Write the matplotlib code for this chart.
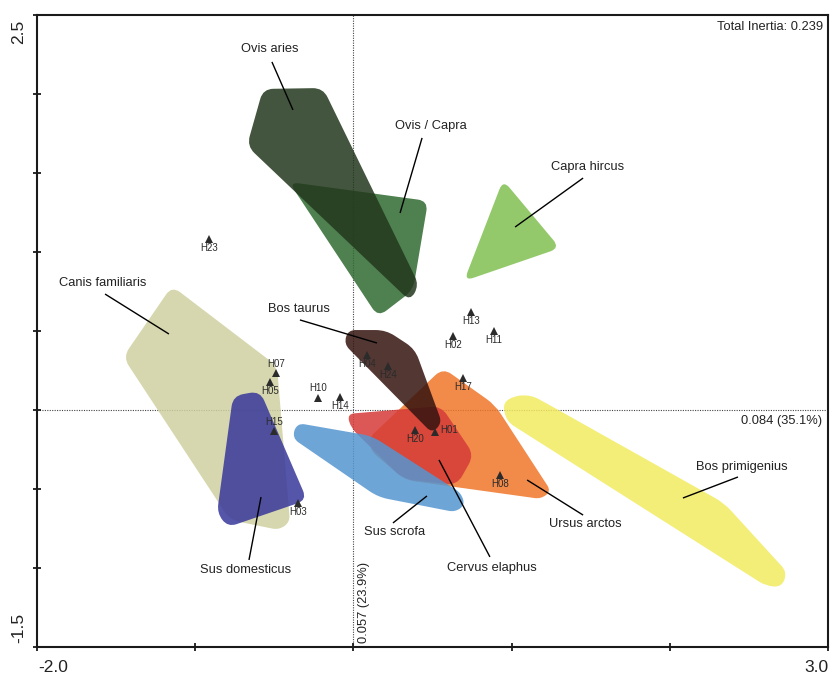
import numpy as np
import matplotlib
matplotlib.use("Agg")
import matplotlib.pyplot as plt
from matplotlib.path import Path
from matplotlib.patches import PathPatch

plt.rcParams["font.family"] = ["Liberation Sans", "DejaVu Sans"]

# ---- ordination scores -------------------------------------------------
# convex hulls of the taxa (axis 1, axis 2)
canis_familiaris = [(-1.147, 0.785), (-0.483, 0.278), (-0.401, -0.709),
                    (-0.470, -0.759), (-0.780, -0.696), (-1.456, 0.335)]
sus_domesticus = [(-0.761, 0.089), (-0.590, 0.120), (-0.293, -0.570),
                  (-0.793, -0.741), (-0.862, -0.652)]
ovis_capra = [(-0.407, 1.443), (0.472, 1.323), (0.377, 0.759), (0.156, 0.589)]
ovis_aries = [(-0.571, 2.032), (-0.192, 2.038), (0.415, 0.791),
              (0.358, 0.690), (-0.673, 1.671)]
capra_hircus = [(0.946, 1.456), (1.306, 1.025), (0.699, 0.816)]
bos_primigenius = [(0.946, 0.044), (1.015, 0.089), (1.123, 0.095), (1.217, 0.044),
                   (2.343, -0.589), (2.741, -1.025), (2.709, -1.120),
                   (2.608, -1.114), (0.965, -0.070)]
ursus_arctos = [(0.566, 0.266), (0.895, 0.032), (1.249, -0.513), (1.186, -0.563),
                (0.326, -0.443), (0.111, -0.259), (0.099, -0.177)]
cervus_elaphus = [(-0.040, -0.025), (0.554, 0.025), (0.762, -0.285),
                  (0.655, -0.475), (0.314, -0.437), (-0.015, -0.114)]
sus_scrofa = [(-0.357, -0.082), (0.118, -0.165), (0.680, -0.525), (0.705, -0.601),
              (0.642, -0.646), (0.156, -0.551), (-0.388, -0.177)]
bos_taurus = [(-0.034, 0.506), (0.206, 0.506), (0.389, 0.386), (0.560, -0.082),
              (0.497, -0.146), (-0.059, 0.418)]

# sites (assemblages)
site_names = ["H23", "H13", "H11", "H02", "H04", "H24", "H17", "H07", "H05",
              "H10", "H14", "H15", "H20", "H01", "H03", "H08"]
site_x = [-0.913, 0.743, 0.889, 0.630, 0.086, 0.219, 0.693, -0.489, -0.527,
          -0.224, -0.085, -0.502, 0.389, 0.516, -0.350, 0.927]
site_y = [1.082, 0.620, 0.500, 0.468, 0.348, 0.278, 0.203, 0.234, 0.177,
          0.076, 0.082, -0.133, -0.127, -0.139, -0.589, -0.411]
site_label_side = ["below", "below", "below", "below", "below", "below", "below",
                   "above", "below", "above", "below", "above", "below", "right",
                   "below", "below"]

total_inertia = 0.239
axis1_eig, axis1_pct = 0.084, 35.1
axis2_eig, axis2_pct = 0.057, 23.9

# drawing order (bottom to top), colours, label placement and leader lines
taxa = [
    ("Canis familiaris", canis_familiaris, "#cfd0a0", (-1.583, 0.804), ((-1.570, 0.734), (-1.166, 0.481))),
    ("Sus domesticus", sus_domesticus, "#37379a", (-0.679, -1.010), ((-0.660, -0.949), (-0.584, -0.551))),
    ("Ovis / Capra", ovis_capra, "#2f6a31", (0.491, 1.797), ((0.434, 1.722), (0.295, 1.247))),
    ("Ovis aries", ovis_aries, "#22371c", (-0.527, 2.285), ((-0.515, 2.203), (-0.382, 1.899))),
    ("Capra hircus", capra_hircus, "#80c051", (1.483, 1.538), ((1.452, 1.468), (1.022, 1.158))),
    ("Bos primigenius", bos_primigenius, "#f2eb60", (2.456, -0.361), ((2.431, -0.424), (2.083, -0.557))),
    ("Ursus arctos", ursus_arctos, "#f0762a", (1.464, -0.722), ((1.452, -0.665), (1.098, -0.443))),
    ("Cervus elaphus", cervus_elaphus, "#d53b38", (0.876, -1.000), ((0.863, -0.930), (0.541, -0.316))),
    ("Sus scrofa", sus_scrofa, "#5596d1", (0.263, -0.772), ((0.250, -0.715), (0.465, -0.544))),
    ("Bos taurus", bos_taurus, "#34140f", (-0.344, 0.639), ((-0.338, 0.570), (0.149, 0.424))),
]


def rounded_hull(verts, r):
    """Closed path through the hull with each corner replaced by a quadratic curve."""
    v = np.asarray(verts, float)
    n = len(v)
    pts, codes = [], []
    for i in range(n):
        p0, p1, p2 = v[i - 1], v[i], v[(i + 1) % n]
        d0, d2 = p0 - p1, p2 - p1
        l0, l2 = np.hypot(*d0), np.hypot(*d2)
        ri = min(r, 0.5 * l0, 0.5 * l2)
        a = p1 + d0 / l0 * ri
        b = p1 + d2 / l2 * ri
        pts.append(a)
        codes.append(Path.MOVETO if i == 0 else Path.LINETO)
        pts += [p1, b]
        codes += [Path.CURVE3, Path.CURVE3]
    pts.append(pts[0])
    codes.append(Path.CLOSEPOLY)
    return Path(pts, codes)


W, H = 830, 678
fig = plt.figure(figsize=(W / 100, H / 100), dpi=100)
ax = fig.add_axes([37 / W, 31 / H, 791 / W, 632 / H])
ax.set_xlim(-2.0, 3.0)
ax.set_ylim(-1.5, 2.5)

# origin lines
ax.axvline(0, color="#444444", lw=0.8, ls=(0, (1, 1.2)), zorder=1)
ax.axhline(0, color="#444444", lw=0.8, ls=(0, (1, 1.2)), zorder=1)

# taxon hulls
for k, (name, hull, col, tpos, line) in enumerate(taxa):
    ax.add_patch(PathPatch(rounded_hull(hull, 0.065), facecolor=col, edgecolor="none",
                           alpha=0.85, zorder=2 + k * 0.01))

# leader lines and taxon names
for name, hull, col, tpos, line in taxa:
    (x0, y0), (x1, y1) = line
    ax.plot([x0, x1], [y0, y1], color="black", lw=1.0, zorder=5, solid_capstyle="butt")
    ax.text(tpos[0], tpos[1], name, ha="center", va="center", fontsize=9.3,
            color="#222222", zorder=6)

# sites
ax.plot(site_x, site_y, ls="none", marker="^", ms=5.2, color="#2b2b2b",
        markeredgewidth=0, zorder=7)
offsets = {"below": (0, -9, "center", "center"),
           "above": (0, 9.5, "center", "center"),
           "right": (5, 1.5, "left", "center")}
for name, x, y, side in zip(site_names, site_x, site_y, site_label_side):
    dx, dy, ha, va = offsets[side]
    ax.annotate(name, (x, y), xytext=(dx, dy), textcoords="offset pixels",
                ha=ha, va=va, fontsize=7, color="#2b2b2b", zorder=8)

# axis annotations
ax.text(2.968, 2.424, f"Total Inertia: {total_inertia:.3f}", ha="right", va="center",
        fontsize=9.3, color="#222222")
ax.text(2.965, -0.07, f"{axis1_eig:.3f} ({axis1_pct:.1f}%)", ha="right", va="center",
        fontsize=9.3, color="#222222")
ax.text(0.067, -1.475, f"{axis2_eig:.3f} ({axis2_pct:.1f}%)", ha="center", va="bottom",
        rotation=90, fontsize=9.3, color="#222222")

# frame and ticks
for s in ax.spines.values():
    s.set_linewidth(1.5)
    s.set_color("#1a1a1a")
ax.set_xticks(np.arange(-2.0, 3.01, 1.0))
ax.set_yticks(np.arange(-1.5, 2.51, 0.5))
ax.set_xticklabels([])
ax.set_yticklabels([])
ax.tick_params(direction="inout", length=5.5, width=1.3, color="#1a1a1a",
               top=False, right=False)

xmin, xmax = ax.get_xlim()
ymin, ymax = ax.get_ylim()
lab = dict(fontsize=12.5, color="#222222")
ax.annotate(f"{xmin:.1f}", (xmin, 0), xycoords=("data", "axes fraction"),
            xytext=(1, -21), textcoords="offset pixels", ha="left", va="center", **lab)
ax.annotate(f"{xmax:.1f}", (xmax, 0), xycoords=("data", "axes fraction"),
            xytext=(0, -21), textcoords="offset pixels", ha="right", va="center", **lab)
ax.annotate(f"{ymax:.1f}", (0, ymax), xycoords=("axes fraction", "data"),
            xytext=(-18.5, -5), textcoords="offset pixels", ha="center", va="top",
            rotation=90, **lab)
ax.annotate(f"{ymin:.1f}", (0, ymin), xycoords=("axes fraction", "data"),
            xytext=(-18.5, 4), textcoords="offset pixels", ha="center", va="bottom",
            rotation=90, **lab)

fig.savefig("out.png", dpi=100)
